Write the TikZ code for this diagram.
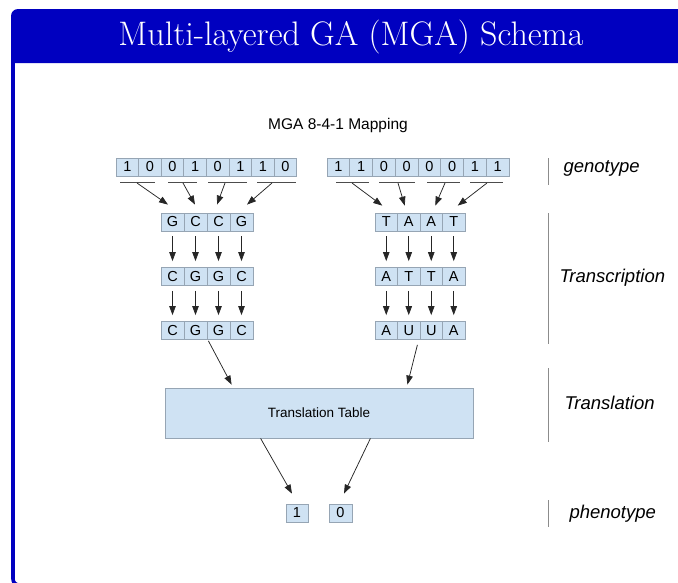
\documentclass[tikz,border=0pt]{standalone}
\usepackage{fontspec}
\newfontfamily\arial{Liberation Sans}
\usetikzlibrary{arrows.meta,calc}
\definecolor{framebl}{RGB}{0,0,192}
\definecolor{cellfill}{RGB}{207,226,243}
\definecolor{celledge}{RGB}{150,165,180}
\definecolor{sepgray}{RGB}{140,140,140}
\begin{document}
\begin{tikzpicture}[x=1pt,y=-1pt,
  cell/.style={draw=celledge, fill=cellfill, line width=0.8pt,
    minimum width=#1, minimum height=18pt, inner sep=0pt,
    font=\arial\fontsize{14.5}{14.5}\selectfont},
  cell/.default=22.6pt,
  arr/.style={-{Triangle[length=9pt,width=6.5pt]}, line width=0.75pt, draw=black!85},
  uline/.style={draw=black!70, line width=0.8pt},
  sep/.style={draw=sepgray, line width=0.9pt},
  lbl/.style={anchor=west, font=\arial\itshape\fontsize{18.5}{18.5}\selectfont}]
\useasboundingbox (0,0) rectangle (678,582);

% slide frame and title bar
\fill[framebl] (11,63) [rounded corners=7pt] -- (11,9) [sharp corners] -- (700,9) -- (700,63) -- cycle;
\draw[framebl, line width=3.6pt, rounded corners=6pt] (13,60) -- (13,585) -- (700,585);
\node[text=white, font=\fontsize{34}{34}\selectfont] (title) at (351,37) {Multi-layered GA (MGA) Schema};

\node[font=\arial\fontsize{15.5}{15.5}\selectfont] (head) at (338,125) {MGA 8-4-1 Mapping};

% genotype strings
\foreach \b [count=\i] in {1,0,0,1,0,1,1,0}
  \node[cell=22.6pt] (gl\i) at ({116+22.6*(\i-0.5)},167) {\b};
\foreach \b [count=\i] in {1,1,0,0,0,0,1,1}
  \node[cell=22.75pt] (gr\i) at ({327+22.75*(\i-0.5)},167) {\b};

% codon pairs
\draw[uline] (120,182) -- (155,182);
\draw[uline] (168,182) -- (197,182);
\draw[uline] (208,182) -- (247,182);
\draw[uline] (257,182) -- (296,182);
\draw[uline] (336,182) -- (369,182);
\draw[uline] (379,182) -- (415,182);
\draw[uline] (427,182) -- (460,182);
\draw[uline] (470,182) -- (503,182);
\coordinate (ul1) at (137,183);
\coordinate (ul2) at (183,183);
\coordinate (ul3) at (225,183);
\coordinate (ul4) at (272,183);
\coordinate (ur1) at (352,183);
\coordinate (ur2) at (398,183);
\coordinate (ur3) at (445,183);
\coordinate (ur4) at (487,183);

% transcription rows
\foreach \r/\y/\s in {A/222/{G,C,C,G}, B/276.5/{C,G,G,C}, C/330.5/{C,G,G,C}}
  \foreach \b [count=\i] in \s
    \node[cell=23pt] (l\r\i) at ({161+23*(\i-0.5)},\y) {\b};
\foreach \r/\y/\s in {A/222/{T,A,A,T}, B/276.5/{A,T,T,A}, C/330.5/{A,U,U,A}}
  \foreach \b [count=\i] in \s
    \node[cell=22.5pt] (r\r\i) at ({375+22.5*(\i-0.5)},\y) {\b};

% genotype -> first row
\draw[arr] (ul1) -- ($(lA1.north)+(-4.5,-8)$);
\draw[arr] (ul2) -- ($(lA2.north)+(-0.5,-8)$);
\draw[arr] (ul3) -- ($(lA3.north)+(-1.5,-8)$);
\draw[arr] (ul4) -- ($(lA4.north)+(5.5,-8)$);
\draw[arr] (ur1) -- ($(rA1.north)+(-4,-7)$);
\draw[arr] (ur2) -- ($(rA2.north)+(-4,-7)$);
\draw[arr] (ur3) -- ($(rA3.north)+(4,-7)$);
\draw[arr] (ur4) -- ($(rA4.north)+(4,-7)$);

% row to row
\foreach \s in {l,r}
  \foreach \i in {1,...,4} {
    \draw[arr] ($(\s A\i.south)+(0,5)$) -- ($(\s B\i.north)+(0,-6)$);
    \draw[arr] ($(\s B\i.south)+(0,5)$) -- ($(\s C\i.north)+(0,-6)$);
  }

% translation
\node[draw=celledge, fill=cellfill, line width=0.8pt, minimum width=308pt,
  minimum height=50pt, inner sep=0pt, font=\arial\fontsize{13.5}{13.5}\selectfont]
  (tbl) at (319,413) {Translation Table};
\draw[arr] ($(lC2.south east)+(1,1)$) -- ($(tbl.north west)+(67,-3)$);
\draw[arr] ($(rC2.south east)+(-3,5)$) -- ($(tbl.north east)+(-66,-3)$);

% phenotype
\node[cell=22pt] (ph1) at (297,513) {1};
\node[cell=23pt] (ph0) at (340.5,513) {0};
\draw[arr] ($(tbl.south west)+(96,0)$) -- ($(ph1.north)+(-5,-10)$);
\draw[arr] ($(tbl.south east)+(-103,0)$) -- ($(ph0.north)+(3.5,-10)$);

% stage labels
\draw[sep] (548,158) -- (548,185);
\draw[sep] (548,213) -- (548,344);
\draw[sep] (548,368) -- (548,442);
\draw[sep] (548,500) -- (548,527);
\node[lbl] (lgen) at (560,168) {genotype};
\node[lbl] (ltrc) at (556,278) {Transcription};
\node[lbl] (ltrl) at (561,403) {Translation};
\node[lbl] (lphe) at (566,514) {phenotype};
\end{tikzpicture}
\end{document}
